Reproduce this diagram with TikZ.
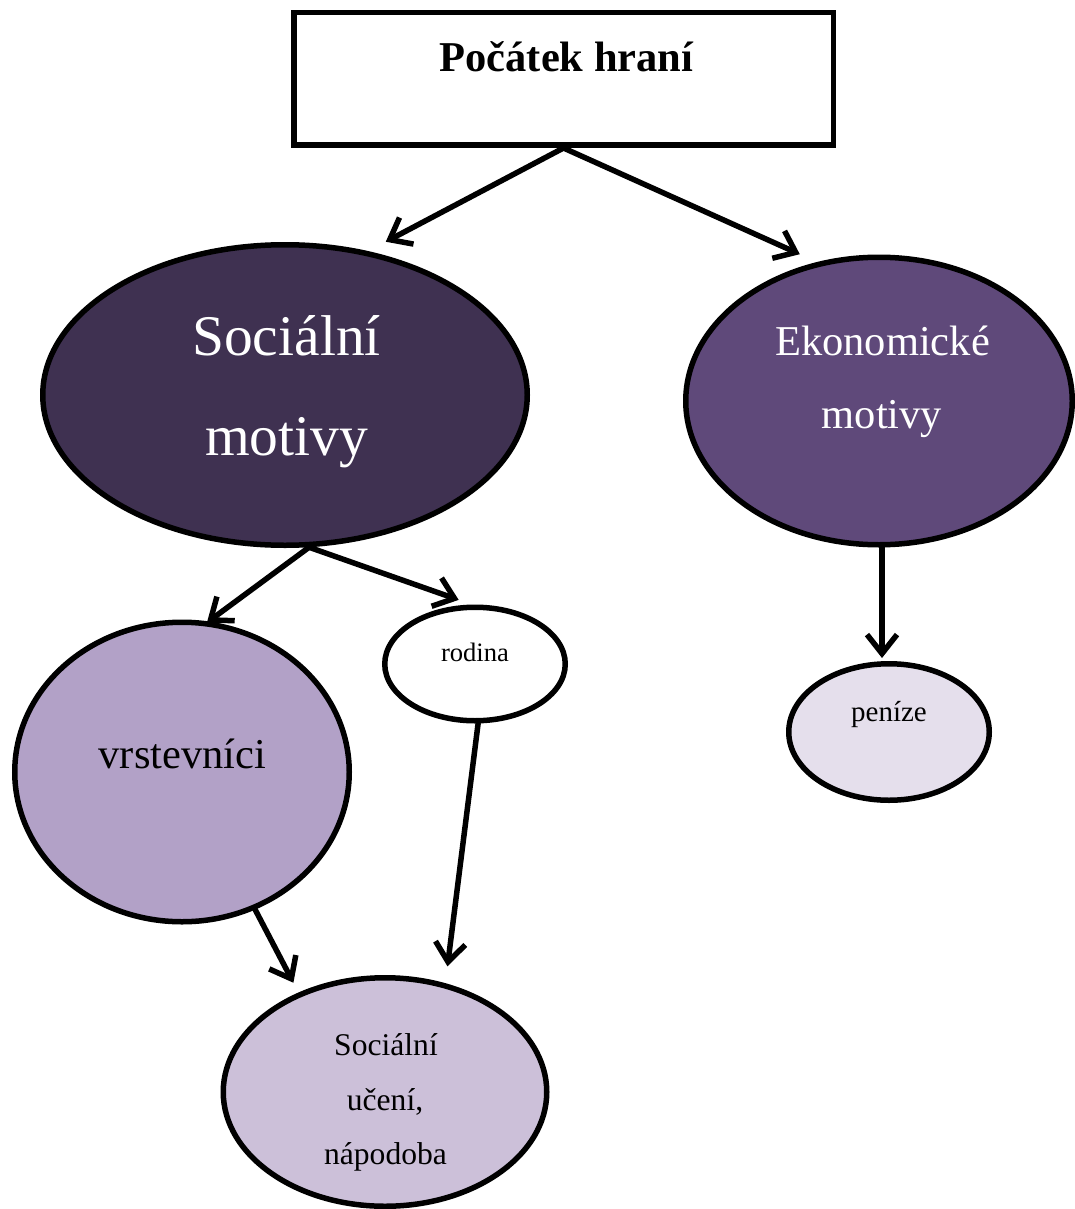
\documentclass[tikz,border=0pt]{standalone}
\usepackage{fontspec}
\setmainfont{Liberation Serif}
\usetikzlibrary{shapes.geometric,arrows.meta}

% Office purple palette
\definecolor{plumDark}{HTML}{3F3151}
\definecolor{plumMid}{HTML}{5F497A}
\definecolor{plumLight}{HTML}{B2A1C7}
\definecolor{plumPale}{HTML}{CCC0D9}
\definecolor{plumFaint}{HTML}{E5DFEC}

\begin{document}
\begin{tikzpicture}[x=1pt,y=-1pt,
  bubble/.style={ellipse, draw=black, line width=5.5pt, inner sep=0pt},
  headbox/.style={rectangle, draw=black, line width=5.5pt, inner sep=0pt, fill=white},
  conn/.style={line width=5.5pt, line cap=round,
    -{Straight Barb[length=19pt,width=30pt,line width=5.5pt]}},
  lbl/.style={inner sep=0pt, anchor=base},
  fsHuge/.style={font=\fontsize{57.5}{60}\selectfont},
  fsBig/.style={font=\fontsize{42.5}{46}\selectfont},
  fsMid/.style={font=\fontsize{31.6}{34}\selectfont},
  fsSmall/.style={font=\fontsize{29}{32}\selectfont},
  fsTiny/.style={font=\fontsize{26.6}{29}\selectfont}]

\useasboundingbox (0,0) rectangle (1075,1209);

% shapes (sizes are path sizes; the outline adds half its width all round)
\node[headbox, minimum width=539.5pt, minimum height=132.5pt] (start) at (563.5,79) {};
\node[bubble, fill=plumDark,  minimum width=484.5pt, minimum height=300.5pt] (soc) at (285,395) {};
\node[bubble, fill=plumMid,   minimum width=386.5pt, minimum height=287.5pt] (eko) at (879,401) {};
\node[bubble, fill=white,     minimum width=180.5pt, minimum height=113.5pt] (rod) at (475,664) {};
\node[bubble, fill=plumLight, minimum width=334.5pt, minimum height=299.5pt] (vrs) at (182,772) {};
\node[bubble, fill=plumFaint, minimum width=200.5pt, minimum height=136.5pt] (pen) at (889,732) {};
\node[bubble, fill=plumPale,  minimum width=323.5pt, minimum height=228.5pt] (nau) at (385,1092) {};

% labels
\node[lbl, font=\fontsize{42.5}{46}\selectfont\bfseries] (tStart) at (566.5,72) {Počátek hraní};
\node[lbl, fsHuge, text=white] (tSoc1) at (286.5,355) {Sociální};
\node[lbl, fsHuge, text=white] (tSoc2) at (286.5,455) {motivy};
\node[lbl, fsBig, text=white] (tEko1) at (882.5,355) {Ekonomické};
\node[lbl, fsBig, text=white] (tEko2) at (882,428) {motivy};
\node[lbl, fsTiny] (tRod) at (475,661) {rodina};
\node[lbl, fsBig] (tVrs) at (182.5,768) {vrstevníci};
\node[lbl, fsSmall] (tPen) at (889,721) {peníze};
\node[lbl, fsMid] (tNau1) at (386,1055) {Sociální};
\node[lbl, fsMid] (tNau2) at (385,1110) {učení,};
\node[lbl, fsMid] (tNau3) at (385.5,1164) {nápodoba};

% connectors
\draw[conn, shorten >=20pt] (start.south) -- (soc.60.3);
\draw[conn, shorten >=19pt] (start.south) -- (eko.114);
\draw[conn, shorten >=-2pt] (soc.-81.7) -- (vrs.80.5);
\draw[conn, shorten >=14pt] (soc.-81.7) -- (rod.93.7);
\draw[conn, shorten >=17pt] (rod.-87) -- (nau.61.7);
\draw[conn, shorten >=11pt] (vrs.-62.5) -- (nau.131.9);
\draw[conn, shorten >=3pt] ([xshift=3pt]eko.south) -- ([xshift=3pt]eko.south |- pen.north);
\end{tikzpicture}
\end{document}
